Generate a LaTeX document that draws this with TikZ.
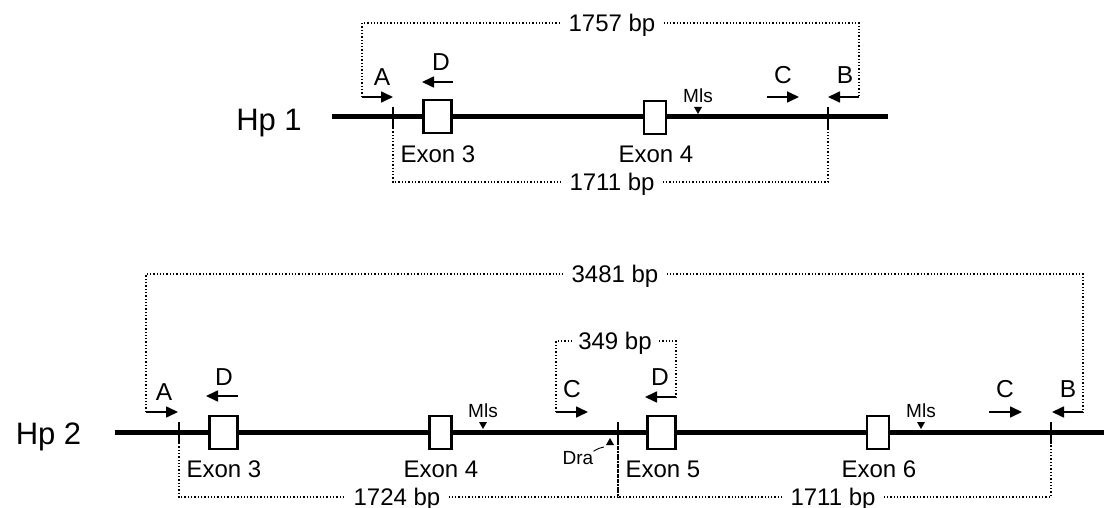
\documentclass[tikz,border=0pt]{standalone}
\usepackage{fontspec}
\setmainfont{Liberation Sans}
\usetikzlibrary{arrows.meta,positioning}

\begin{document}
\begin{tikzpicture}[x=1pt,y=-1pt,
    chrom/.style={line width=5pt},
    tickmark/.style={line width=1.8pt},
    exon/.style={draw,fill=white,line width=2.8pt,inner sep=0pt,minimum height=33pt},
    wideexon/.style={exon,minimum width=28pt},
    narrowexon/.style={exon,minimum width=22pt},
    primer/.style={line width=1.7pt,-{Triangle[length=12pt,width=11pt]}},
    span/.style={line width=1.8pt,dash pattern=on 1.3pt off 2pt},
    txt/.style={inner sep=0pt,text depth=0pt},
    hplab/.style={txt,font=\fontsize{31}{34}\selectfont},
    plab/.style={txt,font=\fontsize{24.5}{26}\selectfont},
    exlab/.style={txt,font=\fontsize{24}{26}\selectfont},
    bplab/.style={inner sep=8pt,text depth=0pt,font=\fontsize{24}{26}\selectfont},
    small/.style={txt,font=\fontsize{19}{21}\selectfont}]
\useasboundingbox (0,0) rectangle (1104,508);

% Hp 1
\node[hplab] (hp1) at (269,119.5) {Hp 1};
\draw[chrom] (332,117) -- (888,117);
\coordinate (t1a) at (393,128); \coordinate (t1b) at (828,128);
\foreach \x in {393,828} \draw[tickmark] (\x,107) -- (\x,128);
\node[wideexon] (e13) at (437.5,116.5) {};
\node[narrowexon] (e14) at (655,117.5) {};
\node[exlab] (x13) at (438,154) {Exon 3};
\node[exlab] (x14) at (656,154) {Exon 4};
\fill (694,107) -- (702,107) -- (698,114) -- cycle;
\node[small] (m1) at (698,96) {Mls};

\coordinate (a1s) at (362,97); \coordinate (a1e) at (393,97);
\coordinate (d1s) at (453,82); \coordinate (d1e) at (422,82);
\coordinate (c1s) at (767,97); \coordinate (c1e) at (799,97);
\coordinate (b1s) at (859,97); \coordinate (b1e) at (828,97);
\draw[primer] (a1s) -- (a1e);
\draw[primer] (d1s) -- (d1e);
\draw[primer] (c1s) -- (c1e);
\draw[primer] (b1s) -- (b1e);
\node[plab] (pa1) at (382,77) {A};
\node[plab] (pd1) at (441,62) {D};
\node[plab] (pc1) at (783,75) {C};
\node[plab] (pb1) at (845,75) {B};

\node[bplab] (n1757) at (612,23) {1757 bp};
\draw[span] (a1s) |- (n1757);
\draw[span] (n1757) -| (b1s);
\node[bplab] (n1711a) at (612,182) {1711 bp};
\draw[span] (t1a) |- (n1711a);
\draw[span] (n1711a) -| (t1b);

% Hp 2
\node[hplab] (hp2) at (48.5,434) {Hp 2};
\draw[chrom] (115,432) -- (1104,432);
\coordinate (t2a) at (179,443); \coordinate (t2m) at (618,443); \coordinate (t2b) at (1051,443);
\foreach \x in {179,618,1051} \draw[tickmark] (\x,422) -- (\x,443);
\node[wideexon] (e23) at (223.5,432.5) {};
\node[narrowexon] (e24) at (440.5,432.5) {};
\node[wideexon] (e25) at (661.5,432.5) {};
\node[narrowexon] (e26) at (878,432.5) {};
\node[exlab] (x23) at (224,469) {Exon 3};
\node[exlab] (x24) at (441,469) {Exon 4};
\node[exlab] (x25) at (663,469) {Exon 5};
\node[exlab] (x26) at (879,469) {Exon 6};
\foreach \x in {483,921} \fill (\x-4,422) -- (\x+4,422) -- (\x,429) -- cycle;
\node[small] (m2) at (483,411) {Mls};
\node[small] (m3) at (921,411) {Mls};
\fill (606,445) -- (614,445) -- (610,438) -- cycle;
\node[small] (dra) at (578,458) {Dra};
\draw[line width=0.9pt] (604,447) to[bend right=10] (dra.north east);

\coordinate (a2s) at (146,412); \coordinate (a2e) at (178,412);
\coordinate (d2s) at (238,396); \coordinate (d2e) at (206,396);
\coordinate (c2s) at (556,412); \coordinate (c2e) at (588,412);
\coordinate (d3s) at (676,397); \coordinate (d3e) at (645,397);
\coordinate (c3s) at (989,412); \coordinate (c3e) at (1022,412);
\coordinate (b2s) at (1083,412); \coordinate (b2e) at (1052,412);
\draw[primer] (a2s) -- (a2e);
\draw[primer] (d2s) -- (d2e);
\draw[primer] (c2s) -- (c2e);
\draw[primer] (d3s) -- (d3e);
\draw[primer] (c3s) -- (c3e);
\draw[primer] (b2s) -- (b2e);
\node[plab] (pa2) at (164,392) {A};
\node[plab] (pd2) at (224,377) {D};
\node[plab] (pc2) at (572,389) {C};
\node[plab] (pd3) at (660,377) {D};
\node[plab] (pc3) at (1005,389) {C};
\node[plab] (pb2) at (1068,389) {B};

\node[bplab] (n3481) at (615,274) {3481 bp};
\draw[span] (a2s) |- (n3481);
\draw[span] (n3481) -| (b2s);
\node[bplab,inner sep=7pt] (n349) at (615,341) {349 bp};
\draw[span] (c2s) |- (n349);
\draw[span] (n349) -| (d3s);
\node[bplab] (n1724) at (397,497) {1724 bp};
\node[bplab] (n1711b) at (833,497) {1711 bp};
\draw[span] (t2a) |- (n1724);
\draw[span] (n1724) -| (t2m);
\draw[span] (n1711b) -| (t2m);
\draw[span] (n1711b) -| (t2b);
\end{tikzpicture}
\end{document}
